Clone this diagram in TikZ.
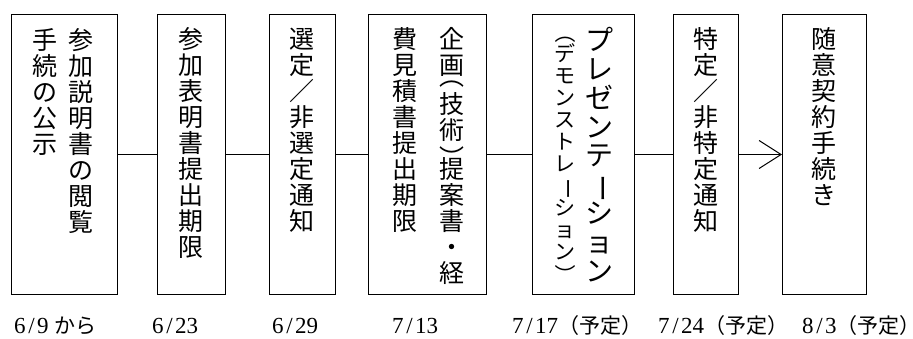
\documentclass[tikz,border=0pt]{standalone}
\usepackage{fontspec}
\usepackage{graphicx}
\setmainfont{Liberation Serif}
\newfontfamily\jp{Noto Sans CJK JP}
\usetikzlibrary{arrows.meta}
\newcommand\vrt[1]{\rotatebox[origin=c]{-90}{#1}}
\newcommand\vcol[2]{\def\pf{#1}\vbox{\offinterlineskip#2}}
\newcommand\cc[1]{\hbox to 1em{\hss\vrule height \dimexpr\pf em*88/100\relax depth \dimexpr\pf em*12/100\relax width 0pt\smash{#1}\hss}}
\newcommand\hpo[1][.18em]{\hbox to 1em{\hss\vrule height \dimexpr\pf em/2\relax depth 0pt width 0pt\raisebox{#1}[0pt][0pt]{\vrt{（}}\hss}}
\newcommand\hpc{\hbox to 1em{\hss\vrule height \dimexpr\pf em/2\relax depth 0pt width 0pt\raisebox{-.48em}[0pt][0pt]{\vrt{）}}\hss}}
\newcommand\dsl{\makebox[0.5em]{/}}
\newcommand\jpd{\jp\fontsize{21}{24}\selectfont}
\newcommand\yotei{{\jpd （予定\makebox[.45em][l]{）}}}
\tikzset{
  box/.style={draw, line width=1pt, inner sep=0pt, anchor=north west, minimum height=280pt},
  col/.style={font=\jp\fontsize{25}{26}\selectfont, inner sep=0pt, anchor=north},
  bigcol/.style={col, font=\jp\fontsize{28}{29}\selectfont},
  smallcol/.style={col, font=\jp\fontsize{21}{22}\selectfont},
  datelabel/.style={font=\fontsize{23}{25}\selectfont, inner sep=0pt, anchor=base west},
  link/.style={line width=1pt},
}
\begin{document}
\begin{tikzpicture}[x=1pt,y=-1pt]
\useasboundingbox (0,0) rectangle (913,338);
% boxes
\node[box, minimum width=106pt] (b1) at (11,14) {};
\node[box, minimum width=68pt]  (b2) at (157,14) {};
\node[box, minimum width=66pt]  (b3) at (269,14) {};
\node[box, minimum width=118pt] (b4) at (368,14) {};
\node[box, minimum width=102pt] (b5) at (532,14) {};
\node[box, minimum width=65pt]  (b6) at (673,14) {};
\node[box, minimum width=84pt]  (b7) at (782,14) {};
% texts
\node[col] (t1a) at (81,26) {\vcol{1.04}{\cc{参}\cc{加}\cc{説}\cc{明}\cc{書}\cc{の}\cc{閲}\cc{覧}}};
\node[col] (t1b) at (45,26) {\vcol{1.04}{\cc{手}\cc{続}\cc{の}\cc{公}\cc{示}}};
\node[col] (t2) at (191,25) {\vcol{1.04}{\cc{参}\cc{加}\cc{表}\cc{明}\cc{書}\cc{提}\cc{出}\cc{期}\cc{限}}};
\node[col] (t3) at (302,25) {\vcol{1.04}{\cc{選}\cc{定}\cc{／}\cc{非}\cc{選}\cc{定}\cc{通}\cc{知}}};
\node[col] (t4a) at (451.5,25) {\vcol{1.04}{\cc{企}\cc{画}\hpo\cc{技}\cc{術}\hpc\cc{提}\cc{案}\cc{書}\cc{・}\cc{経}}};
\node[col] (t4b) at (405,25) {\vcol{1.04}{\cc{費}\cc{見}\cc{積}\cc{書}\cc{提}\cc{出}\cc{期}\cc{限}}};
\node[bigcol] (t5a) at (599,25) {\vcol{1.03}{\cc{プ}\cc{レ}\cc{ゼ}\cc{ン}\cc{テ}\cc{\vrt{ー}}\cc{シ}\cc{ョ}\cc{ン}}};
\node[smallcol] (t5b) at (565,31) {\vcol{1.048}{\hpo[.08em]\cc{デ}\cc{モ}\cc{ン}\cc{ス}\cc{ト}\cc{レ}\cc{\vrt{ー}}\cc{シ}\cc{ョ}\cc{ン}\hpc}};
\node[col] (t6) at (706,25) {\vcol{1.04}{\cc{特}\cc{定}\cc{／}\cc{非}\cc{特}\cc{定}\cc{通}\cc{知}}};
\node[col] (t7) at (824,25) {\vcol{1.04}{\cc{随}\cc{意}\cc{契}\cc{約}\cc{手}\cc{続}\cc{き}}};
% connectors
\draw[link] (b1.east) -- (b2.west);
\draw[link] (b2.east) -- (b3.west);
\draw[link] (b3.east) -- (b4.west);
\draw[link] (b4.east) -- (b5.west);
\draw[link] (b5.east) -- (b6.west);
\draw[link, -{Straight Barb[length=22pt,width=28pt]}] (b6.east) -- (b7.west);
% dates
\node[datelabel] (d1) at (14,333) {6\dsl9 {\jpd から}};
\node[datelabel] (d2) at (152,333) {6\dsl23};
\node[datelabel] (d3) at (272,333) {6\dsl29};
\node[datelabel] (d4) at (392,333) {7\dsl13};
\node[datelabel] (d5) at (512,333) {7\dsl17\yotei};
\node[datelabel] (d6) at (658,333) {7\dsl24\yotei};
\node[datelabel] (d7) at (802,333) {8\dsl3\yotei};
\end{tikzpicture}
\end{document}
